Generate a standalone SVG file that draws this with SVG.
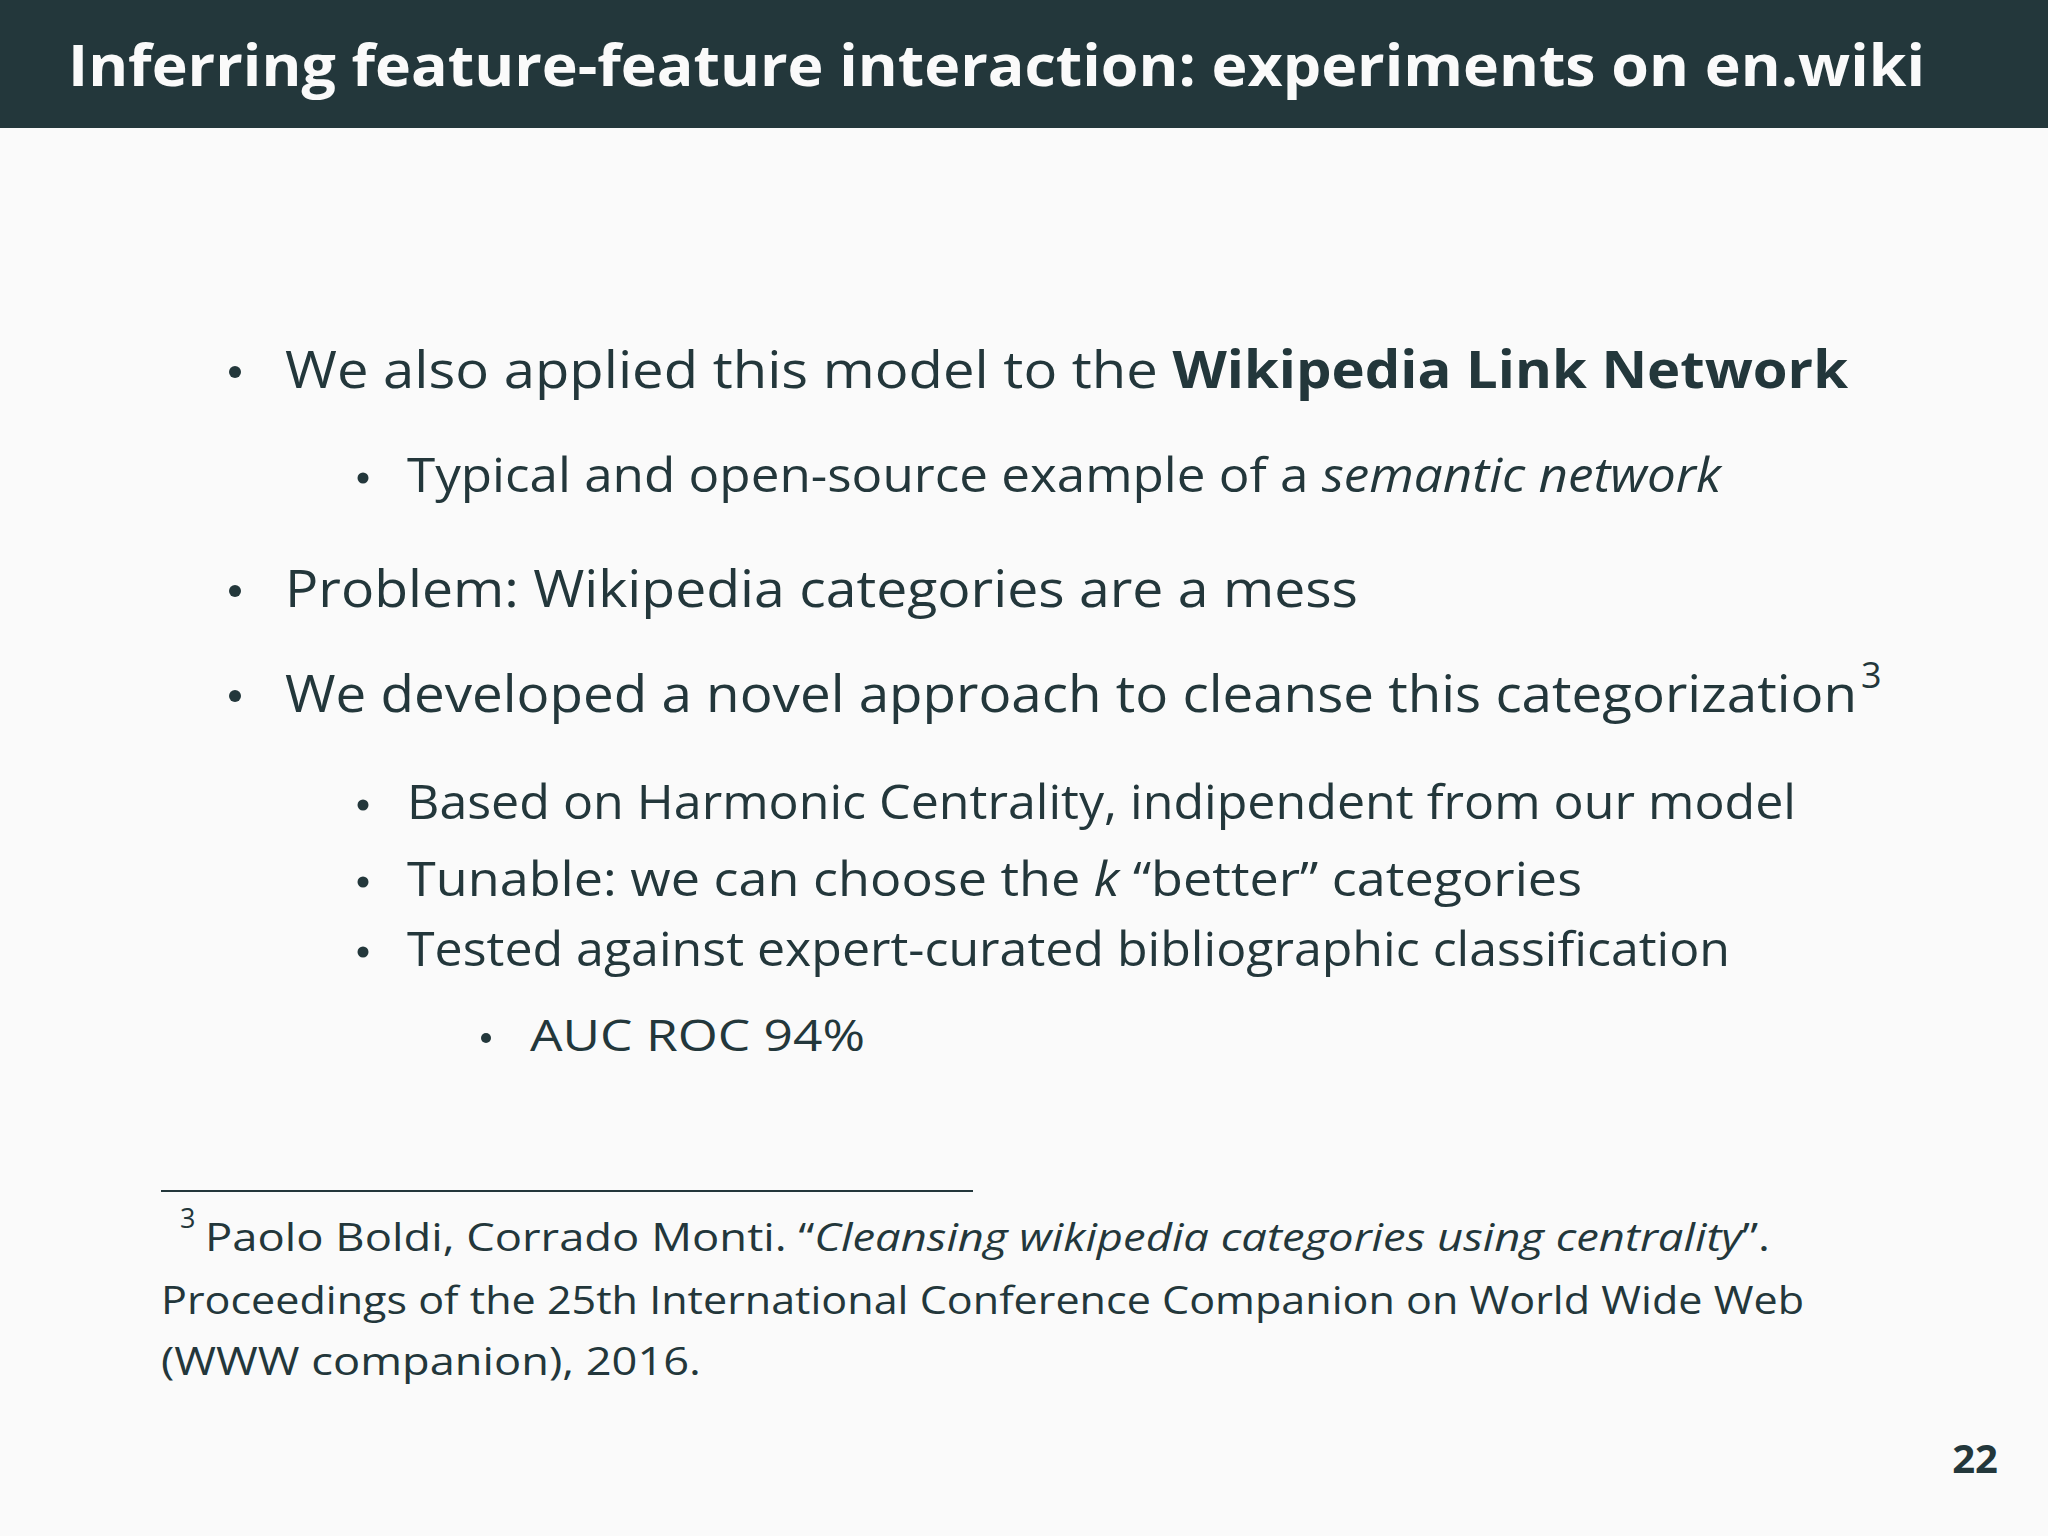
<svg xmlns="http://www.w3.org/2000/svg" width="2048" height="1536" viewBox="0 0 2048 1536">
<style>
text{font-family:"Open Sans","DejaVu Sans",sans-serif;fill:#23373b}
.t{font-size:52px}.s{font-size:47px}.ss{font-size:44px}.f{font-size:39px}
.b{font-weight:bold}.i{font-style:italic}
</style>
<rect width="2048" height="1536" fill="#fafafa"/>
<rect width="2048" height="128" fill="#23373b"/>
<text x="68" y="86" style="font-size:57px;font-weight:bold;fill:#fafafa" textLength="1857" lengthAdjust="spacingAndGlyphs">Inferring feature-feature interaction: experiments on en.wiki</text>
<g id="bullets">
<circle cx="235" cy="372" r="6" fill="#23373b"/>
<text class="t" x="285" y="388" textLength="1563" lengthAdjust="spacingAndGlyphs">We also applied this model to the <tspan class="b">Wikipedia Link Network</tspan></text>
<circle cx="363" cy="478" r="5.5" fill="#23373b"/>
<text class="s" x="407" y="492" textLength="1314" lengthAdjust="spacingAndGlyphs">Typical and open-source example of a <tspan class="i">semantic network</tspan></text>
<circle cx="235" cy="591" r="6" fill="#23373b"/>
<text class="t" x="285" y="607" textLength="1073" lengthAdjust="spacingAndGlyphs">Problem: Wikipedia categories are a mess</text>
<circle cx="235" cy="696" r="6" fill="#23373b"/>
<text class="t" x="285" y="712" textLength="1572" lengthAdjust="spacingAndGlyphs">We developed a novel approach to cleanse this categorization</text>
<text x="1861" y="688" style="font-size:36px">3</text>
<circle cx="363" cy="805" r="5.5" fill="#23373b"/>
<text class="s" x="407" y="819" textLength="1389" lengthAdjust="spacingAndGlyphs">Based on Harmonic Centrality, indipendent from our model</text>
<circle cx="363" cy="882" r="5.5" fill="#23373b"/>
<text class="s" x="407" y="896" textLength="1175" lengthAdjust="spacingAndGlyphs">Tunable: we can choose the <tspan class="i">k</tspan> “better” categories</text>
<circle cx="363" cy="952" r="5.5" fill="#23373b"/>
<text class="s" x="407" y="966" textLength="1323" lengthAdjust="spacingAndGlyphs">Tested against expert-curated bibliographic classification</text>
<circle cx="486" cy="1038" r="5" fill="#23373b"/>
<text class="ss" x="530" y="1051" textLength="335" lengthAdjust="spacingAndGlyphs">AUC ROC 94%</text>
</g>
<g id="footnote">
<line x1="161" y1="1191" x2="973" y2="1191" stroke="#23373b" stroke-width="2"/>
<text x="180" y="1228" style="font-size:27px">3</text>
<text class="f" x="205" y="1251" textLength="1565" lengthAdjust="spacingAndGlyphs">Paolo Boldi, Corrado Monti. “<tspan class="i">Cleansing wikipedia categories using centrality</tspan>”.</text>
<text class="f" x="161" y="1314" textLength="1643" lengthAdjust="spacingAndGlyphs">Proceedings of the 25th International Conference Companion on World Wide Web</text>
<text class="f" x="161" y="1375" textLength="540" lengthAdjust="spacingAndGlyphs">(WWW companion), 2016.</text>
</g>
<text x="1998" y="1473" text-anchor="end" style="font-size:40px;font-weight:bold">22</text>
</svg>
